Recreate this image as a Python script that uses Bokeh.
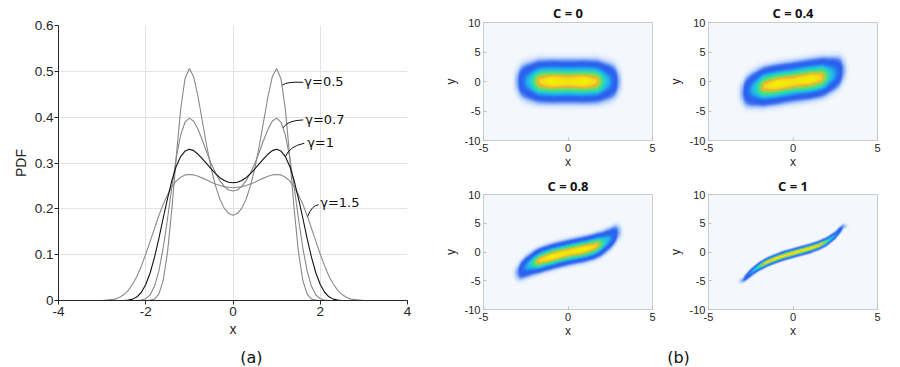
import numpy as np
from bokeh.plotting import figure
from bokeh.layouts import row, column
from bokeh.models import Range1d, FixedTicker, Label, LinearColorMapper
from bokeh.embed import file_html
from bokeh.resources import INLINE

# ---------------- panel (a) data ----------------
pdf_x = [-4.0,
         -3.0, -2.9, -2.8, -2.7, -2.6, -2.5, -2.4, -2.3, -2.2, -2.1,
         -2.0, -1.9, -1.8, -1.7, -1.6, -1.5, -1.4, -1.3, -1.2, -1.1,
         -1.0, -0.9, -0.8, -0.7, -0.6, -0.5, -0.4, -0.3, -0.2, -0.1,
         0.0, 0.1, 0.2, 0.3, 0.4, 0.5, 0.6, 0.7, 0.8, 0.9,
         1.0, 1.1, 1.2, 1.3, 1.4, 1.5, 1.6, 1.7, 1.8, 1.9,
         2.0, 2.1, 2.2, 2.3, 2.4, 2.5, 2.6, 2.7, 2.8, 2.9, 3.0,
         4.0]
pdf_g05 = [0.0,
           0.0, 0.0, 0.0, 0.0, 0.0, 0.0, 0.0, 0.0, 0.0, 0.0,
           0.0, 0.001, 0.003, 0.014, 0.044, 0.106, 0.201, 0.314, 0.417, 0.484,
           0.506, 0.488, 0.444, 0.390, 0.336, 0.288, 0.250, 0.221, 0.201, 0.190,
           0.186, 0.190, 0.201, 0.221, 0.250, 0.288, 0.336, 0.390, 0.444, 0.488,
           0.506, 0.484, 0.417, 0.314, 0.201, 0.106, 0.044, 0.014, 0.003, 0.001,
           0.0, 0.0, 0.0, 0.0, 0.0, 0.0, 0.0, 0.0, 0.0, 0.0, 0.0,
           0.0]
pdf_g07 = [0.0,
           0.0, 0.0, 0.0, 0.0, 0.0, 0.0, 0.0, 0.0, 0.0, 0.001,
           0.004, 0.012, 0.031, 0.064, 0.115, 0.179, 0.249, 0.312, 0.361, 0.389,
           0.398, 0.391, 0.373, 0.349, 0.323, 0.299, 0.278, 0.261, 0.249, 0.241,
           0.239, 0.241, 0.249, 0.261, 0.278, 0.299, 0.323, 0.349, 0.373, 0.391,
           0.398, 0.389, 0.361, 0.312, 0.249, 0.179, 0.115, 0.064, 0.031, 0.012,
           0.004, 0.001, 0.0, 0.0, 0.0, 0.0, 0.0, 0.0, 0.0, 0.0, 0.0,
           0.0]
pdf_g10 = [0.0,
           0.0, 0.0, 0.0, 0.0, 0.0, 0.0, 0.001, 0.003, 0.008, 0.018,
           0.035, 0.060, 0.094, 0.135, 0.180, 0.223, 0.262, 0.293, 0.314, 0.326,
           0.330, 0.327, 0.319, 0.309, 0.298, 0.287, 0.277, 0.268, 0.262, 0.258,
           0.257, 0.258, 0.262, 0.268, 0.277, 0.287, 0.298, 0.309, 0.319, 0.327,
           0.330, 0.326, 0.314, 0.293, 0.262, 0.223, 0.180, 0.135, 0.094, 0.060,
           0.035, 0.018, 0.008, 0.003, 0.001, 0.0, 0.0, 0.0, 0.0, 0.0, 0.0,
           0.0]
pdf_g15 = [0.0,
           0.0, 0.001, 0.002, 0.003, 0.007, 0.013, 0.022, 0.036, 0.053, 0.076,
           0.101, 0.129, 0.157, 0.185, 0.210, 0.231, 0.248, 0.261, 0.269, 0.274,
           0.275, 0.274, 0.271, 0.267, 0.263, 0.258, 0.254, 0.251, 0.248, 0.247,
           0.246, 0.247, 0.248, 0.251, 0.254, 0.258, 0.263, 0.267, 0.271, 0.274,
           0.275, 0.274, 0.269, 0.261, 0.248, 0.231, 0.210, 0.185, 0.157, 0.129,
           0.101, 0.076, 0.053, 0.036, 0.022, 0.013, 0.007, 0.003, 0.002, 0.001, 0.0,
           0.0]
gamma_labels = ["\u03b3=0.5", "\u03b3=0.7", "\u03b3=1", "\u03b3=1.5"]
pdf_xticks = [-4, -2, 0, 2, 4]
pdf_xtick_labels = ["-4", "-2", "0", "2", "4"]
pdf_yticks = [0, 0.1, 0.2, 0.3, 0.4, 0.5, 0.6]
pdf_ytick_labels = ["0", "0.1", "0.2", "0.3", "0.4", "0.5", "0.6"]

# ---------------- panel (b) data ----------------
c_titles = ["C = 0", "C = 0.4", "C = 0.8", "C = 1"]
ridge_x = [-3.0, -2.5, -2.0, -1.5, -1.0, -0.5, 0.0, 0.5, 1.0, 1.5, 2.0, 2.5, 3.0]
ridge_c00 = [0.0, 0.0, 0.0, 0.0, 0.0, 0.0, 0.0, 0.0, 0.0, 0.0, 0.0, 0.0, 0.0]
ridge_c04 = [-1.9, -1.45, -1.05, -0.75, -0.5, -0.25, -0.05, 0.15, 0.35, 0.6, 0.9, 1.35, 1.9]
ridge_c08 = [-3.6, -2.6, -1.85, -1.3, -0.85, -0.45, -0.1, 0.2, 0.5, 0.9, 1.45, 2.3, 3.5]
ridge_c10 = [-5.0, -3.6, -2.5, -1.7, -1.1, -0.6, -0.2, 0.2, 0.6, 1.1, 1.8, 2.9, 4.5]
band_sd = [1.35, 1.25, 0.82, 0.3]
along_x = [-3.4, -3.2, -2.95, -2.55, -2.15, -1.9, -1.7, -1.0, 0.0,
           1.0, 1.7, 1.9, 2.15, 2.55, 2.95, 3.2, 3.4]
along_v = [0.0, 0.005, 0.03, 0.2, 0.4, 0.65, 0.85, 1.0, 0.93,
           1.0, 0.85, 0.65, 0.4, 0.2, 0.03, 0.005, 0.0]
heat_xticks = [-5, 0, 5]
heat_xtick_labels = ["-5", "0", "5"]
heat_yticks = [-10, -5, 0, 5, 10]
heat_ytick_labels = ["-10", "-5", "0", "5", "10"]

# colour map (style)
cmap_levels = [0.0, 0.003, 0.015, 0.035, 0.07, 0.16, 0.24, 0.34, 0.46, 0.62, 0.70, 0.76, 0.84, 1.0]
cmap_colors = ["#f4f8fc", "#e6effd", "#a9c6f8", "#4d7ff2", "#2b5cef", "#2870ee", "#1fa6ee",
               "#22c8e0", "#3ddc8e", "#6ee05a", "#c8c848", "#f0a238", "#f4d41e", "#f2f200"]

TICK_FONT = "Liberation Sans"
DARK = "#262626"


def hex_rgb(h):
    return [int(h[i:i + 2], 16) for i in (1, 3, 5)]


def make_palette(n=1024):
    rgb = np.array([hex_rgb(c) for c in cmap_colors], dtype=float)
    pal = []
    for i in range(n):
        t = i / (n - 1)
        r = np.interp(t, cmap_levels, rgb[:, 0])
        g = np.interp(t, cmap_levels, rgb[:, 1])
        b = np.interp(t, cmap_levels, rgb[:, 2])
        pal.append("#%02x%02x%02x" % (int(round(r)), int(round(g)), int(round(b))))
    return pal


def caption_fig(width, height, text, cx, cy):
    c = figure(width=width, height=height, x_range=Range1d(0, width), y_range=Range1d(0, height),
               x_axis_type=None, y_axis_type=None, output_backend="svg", toolbar_location=None,
               min_border=0)
    c.outline_line_color = None
    c.grid.grid_line_color = None
    c.add_layout(Label(x=cx, y=cy, text=text, text_font="DejaVu Sans", text_font_size="16px",
                       text_color="#111111", text_align="center", text_baseline="middle"))
    return c


# ---------------- panel (a) ----------------
pa = figure(width=420, height=341, x_range=Range1d(-4, 4), y_range=Range1d(0, 0.6),
            output_backend="svg", toolbar_location=None,
            min_border_left=58, min_border_right=13, min_border_top=25, min_border_bottom=41)
pa.outline_line_color = None

pa.xaxis.ticker = FixedTicker(ticks=pdf_xticks)
pa.xaxis.major_label_overrides = dict(zip(pdf_xticks, pdf_xtick_labels))
pa.yaxis.ticker = FixedTicker(ticks=pdf_yticks)
pa.yaxis.major_label_overrides = dict(zip(pdf_yticks, pdf_ytick_labels))
pa.xgrid.ticker = FixedTicker(ticks=pdf_xticks)
pa.ygrid.ticker = FixedTicker(ticks=pdf_yticks)
for g in (pa.xgrid, pa.ygrid):
    g.grid_line_color = "#e2e2e2"
    g.grid_line_width = 1
for ax in (pa.xaxis, pa.yaxis):
    ax.axis_line_color = DARK
    ax.major_tick_line_color = DARK
    ax.major_tick_in = 0
    ax.major_tick_out = 4
    ax.minor_tick_line_color = None
    ax.major_label_text_font = TICK_FONT
    ax.major_label_text_font_size = "13.5px"
    ax.major_label_text_color = DARK
    ax.axis_label_text_font = TICK_FONT
    ax.axis_label_text_font_size = "14px"
    ax.axis_label_text_font_style = "normal"
    ax.axis_label_text_color = DARK
pa.xaxis.axis_label = "x"
pa.yaxis.axis_label = "PDF"
pa.xaxis.major_label_standoff = 2
pa.xaxis.axis_label_standoff = 2
pa.yaxis.major_label_standoff = 1
pa.yaxis.axis_label_standoff = 3

curves = [(pdf_g15, "#8c8c8c"), (pdf_g05, "#888888"), (pdf_g07, "#888888"), (pdf_g10, "#111111")]
for ys, col in curves:
    pa.line(pdf_x, ys, line_color=col, line_width=1.1)

# label leaders (annotation)
lead_x0 = [1.13, 1.15, 1.20, 1.71]
lead_y0 = [0.470, 0.377, 0.314, 0.183]
lead_x1 = [1.61, 1.61, 1.635, 1.963]
lead_y1 = [0.476, 0.394, 0.343, 0.209]
lead_cx = [1.24, 1.25, 1.30, 1.80]
lead_cy = [0.478, 0.393, 0.337, 0.207]
pa.quadratic(x0=lead_x0, y0=lead_y0, x1=lead_x1, y1=lead_y1, cx=lead_cx, cy=lead_cy,
             line_color="#111111", line_width=1)
lab_x = [1.635, 1.655, 1.70, 2.00]
lab_y = [0.4785, 0.396, 0.345, 0.2145]
for tx, ty, tt in zip(lab_x, lab_y, gamma_labels):
    pa.add_layout(Label(x=tx, y=ty, text=tt, text_font="DejaVu Sans", text_font_size="13px",
                        text_color="#111111", text_align="left", text_baseline="middle"))

cap_a = caption_fig(420, 25, "(a)", 232, 9)

# ---------------- panel (b) ----------------
palette = make_palette()
mapper = LinearColorMapper(palette=palette, low=0.0, high=1.0)
gx = np.linspace(-5, 5, 340)
gy = np.linspace(-10, 10, 340)
GX, GY = np.meshgrid(gx, gy)
ridges = [ridge_c00, ridge_c04, ridge_c08, ridge_c10]


def heat_fig(idx, width, height, bl, br, bt, bb, standoff):
    f = figure(width=width, height=height, x_range=Range1d(-5, 5), y_range=Range1d(-10, 10),
               output_backend="svg", toolbar_location=None,
               min_border_left=bl, min_border_right=br, min_border_top=bt, min_border_bottom=bb)
    f.background_fill_color = cmap_colors[0]
    f.outline_line_color = "#bdbdbd"
    f.outline_line_width = 1
    f.grid.grid_line_color = None
    along = np.interp(GX, along_x, along_v)
    ridge = np.interp(GX, ridge_x, ridges[idx])
    dens = along * np.exp(-0.5 * ((GY - ridge) / band_sd[idx]) ** 2)
    dens = dens / dens.max()
    f.image(image=[dens], x=-5, y=-10, dw=10, dh=20, color_mapper=mapper)
    f.xaxis.ticker = FixedTicker(ticks=heat_xticks)
    f.xaxis.major_label_overrides = dict(zip(heat_xticks, heat_xtick_labels))
    f.yaxis.ticker = FixedTicker(ticks=heat_yticks)
    f.yaxis.major_label_overrides = dict(zip(heat_yticks, heat_ytick_labels))
    for ax in (f.xaxis, f.yaxis):
        ax.axis_line_color = None
        ax.major_tick_line_color = "#bdbdbd"
        ax.major_tick_in = 3
        ax.major_tick_out = 0
        ax.minor_tick_line_color = None
        ax.major_label_text_font = TICK_FONT
        ax.major_label_text_font_size = "11px"
        ax.major_label_text_color = DARK
        ax.axis_label_text_font = TICK_FONT
        ax.axis_label_text_font_size = "12px"
        ax.axis_label_text_font_style = "normal"
        ax.axis_label_text_color = DARK
        ax.major_label_standoff = 3
    f.xaxis.axis_label = "x"
    f.yaxis.axis_label = "y"
    f.xaxis.axis_label_standoff = 0
    f.yaxis.axis_label_standoff = 4
    f.title.text = c_titles[idx]
    f.title.align = "center"
    f.title.text_font = "Open Sans"
    f.title.text_font_style = "bold"
    f.title.text_font_size = "13px"
    f.title.text_color = "#111111"
    f.title.standoff = standoff
    return f


f1 = heat_fig(0, 240, 174, 63, 8, 20, 34, 2)
f2 = heat_fig(1, 238, 174, 48, 21, 20, 34, 2)
f3 = heat_fig(2, 240, 169, 63, 8, 15, 34, 0)
f4 = heat_fig(3, 238, 169, 48, 21, 15, 34, 0)
cap_b = caption_fig(478, 23, "(b)", 258, 9)

layout = row(column(pa, cap_a), column(row(f1, f2), row(f3, f4), cap_b))
open("out.html", "w").write(file_html(layout, INLINE))
